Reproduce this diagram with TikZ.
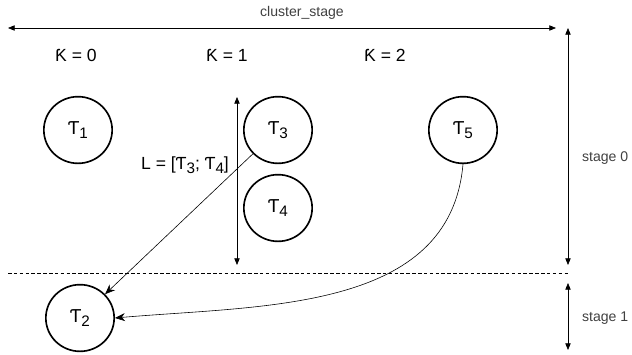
\documentclass[tikz,border=0pt]{standalone}
\usepackage{fontspec}
\setmainfont{Liberation Sans}
\usetikzlibrary{arrows.meta,shapes.geometric}
\tikzset{
  task/.style={ellipse, draw, line width=1.4pt, minimum width=2.05cm, minimum height=2.0cm, inner sep=0pt, font=\fontsize{16}{18}\selectfont},
  span/.style={{Triangle[length=2mm,width=1.6mm]}-{Triangle[length=2mm,width=1.6mm]}, line width=0.6pt},
  dep/.style={-{Stealth[length=3mm,width=2.4mm]}, line width=0.5pt},
  lab/.style={font=\fontsize{12}{14}\selectfont, text=black!75},
  klab/.style={font=\fontsize{15}{17}\selectfont},
}
\newcommand{\tk}[1]{Ƭ\raisebox{-0.45ex}{\fontsize{13}{14}\selectfont #1}}

\begin{document}
\begin{tikzpicture}[x=0.03cm, y=-0.03cm]
  \useasboundingbox (0,0) rectangle (632,354);
  % clusters
  \node[lab] (cs) at (302,13) {cluster\_stage};
  \coordinate (csl) at (8,28); \coordinate (csr) at (556,28);
  \draw[span] (csl) -- (csr);
  \foreach \k/\x in {0/76,1/227,2/385} \node[klab] (k\k) at (\x,55) {Ƙ = \k};
  % tasks
  \node[task] (t1) at (78,130) {\tk{1}};
  \node[task] (t3) at (278,130) {\tk{3}};
  \node[task] (t4) at (278,208) {\tk{4}};
  \node[task] (t5) at (463,130) {\tk{5}};
  \node[task] (t2) at (80,318) {\tk{2}};
  % list
  \coordinate (lt) at (237,97); \coordinate (lb) at (237,265);
  \draw[span] (lt) -- (lb);
  \node[klab, anchor=east] (ll) at (233,165) {L = [\tk{3}; \tk{4}]};
  % stages
  \coordinate (s0t) at (568,28); \coordinate (s0b) at (568,265);
  \coordinate (s1t) at (568,283); \coordinate (s1b) at (568,350);
  \draw[span] (s0t) -- (s0b);
  \draw[span] (s1t) -- (s1b);
  \coordinate (dl) at (8,273); \coordinate (dr) at (568,273);
  \draw[dashed, dash pattern=on 3pt off 2pt, line width=0.5pt] (dl) -- (dr);
  \node[lab, anchor=west] (st0) at (578,158) {stage 0};
  \node[lab, anchor=west] (st1) at (578,318) {stage 1};
  % dependencies
  \draw[dep] (t3) -- (t2);
  \draw[dep] (t5.south) to[out=-95, in=5] (t2.east);
\end{tikzpicture}
\end{document}
